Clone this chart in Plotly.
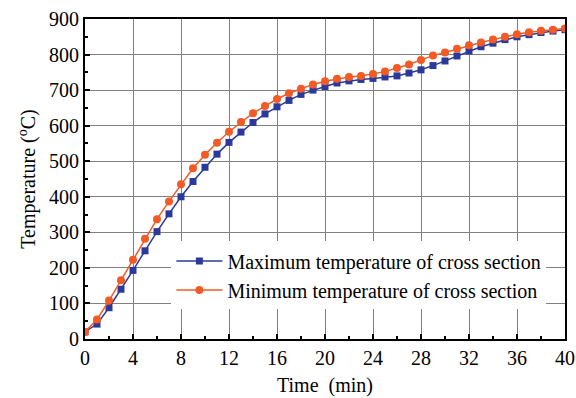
import plotly.graph_objects as go

time_min = list(range(0, 41))
max_temp = [20, 42, 88, 140, 193, 248, 302, 352, 400, 443, 483, 520, 553, 582, 609, 633,
            653, 671, 688, 700, 710, 720, 726, 730, 733, 737, 740, 748, 757, 769, 782,
            796, 810, 822, 832, 842, 850, 856, 862, 866, 870]
min_temp = [20, 55, 108, 165, 223, 282, 337, 387, 435, 480, 518, 552, 583, 610, 635, 655,
            675, 691, 704, 716, 725, 732, 737, 740, 745, 752, 762, 772, 785, 797, 806,
            816, 826, 834, 842, 850, 857, 863, 867, 870, 873]

blue = "#2B3A9A"
orange = "#F25A26"
font = "Liberation Serif, Times New Roman, serif"

fig = go.Figure()
fig.add_trace(go.Scatter(x=time_min, y=max_temp, mode="lines+markers",
                         name="Maximum temperature of cross section",
                         line=dict(color=blue, width=1.5),
                         marker=dict(symbol="square", size=7, color=blue)))
fig.add_trace(go.Scatter(x=time_min, y=min_temp, mode="lines+markers",
                         name="Minimum temperature of cross section",
                         line=dict(color=orange, width=1.5),
                         marker=dict(symbol="circle", size=8, color=orange)))

axis_common = dict(showline=True, linecolor="black", linewidth=2, mirror=True,
                   ticks="inside", ticklen=5, tickwidth=1.5, tickcolor="black",
                   showgrid=True, gridcolor="#808080", gridwidth=1, zeroline=False,
                   automargin=False,
                   tickfont=dict(family=font, size=20, color="black"))

fig.update_xaxes(range=[0, 40], tick0=0, dtick=4,
                 minor=dict(dtick=2, ticks="inside", ticklen=3, tickcolor="black", showgrid=False),
                 title=dict(text="Time  (min)", font=dict(family=font, size=20, color="black"), standoff=10),
                 **axis_common)
fig.update_yaxes(range=[0, 900], tick0=0, dtick=100,
                 minor=dict(dtick=50, ticks="inside", ticklen=3, tickcolor="black", showgrid=False),
                 title=dict(text="Temperature (<sup>o</sup>C)", font=dict(family=font, size=20, color="black"), standoff=8),
                 **axis_common)

fig.update_layout(
    width=576, height=398,
    margin=dict(l=85, r=11, t=19, b=59),
    plot_bgcolor="white", paper_bgcolor="white",
    font=dict(family=font, size=20, color="black"),
    legend=dict(x=0.18, y=0.305, xanchor="left", yanchor="top",
                bgcolor="white", borderwidth=0,
                font=dict(family=font, size=20, color="black"),
                tracegroupgap=0, itemwidth=46),
)

fig.write_html("out.html")
